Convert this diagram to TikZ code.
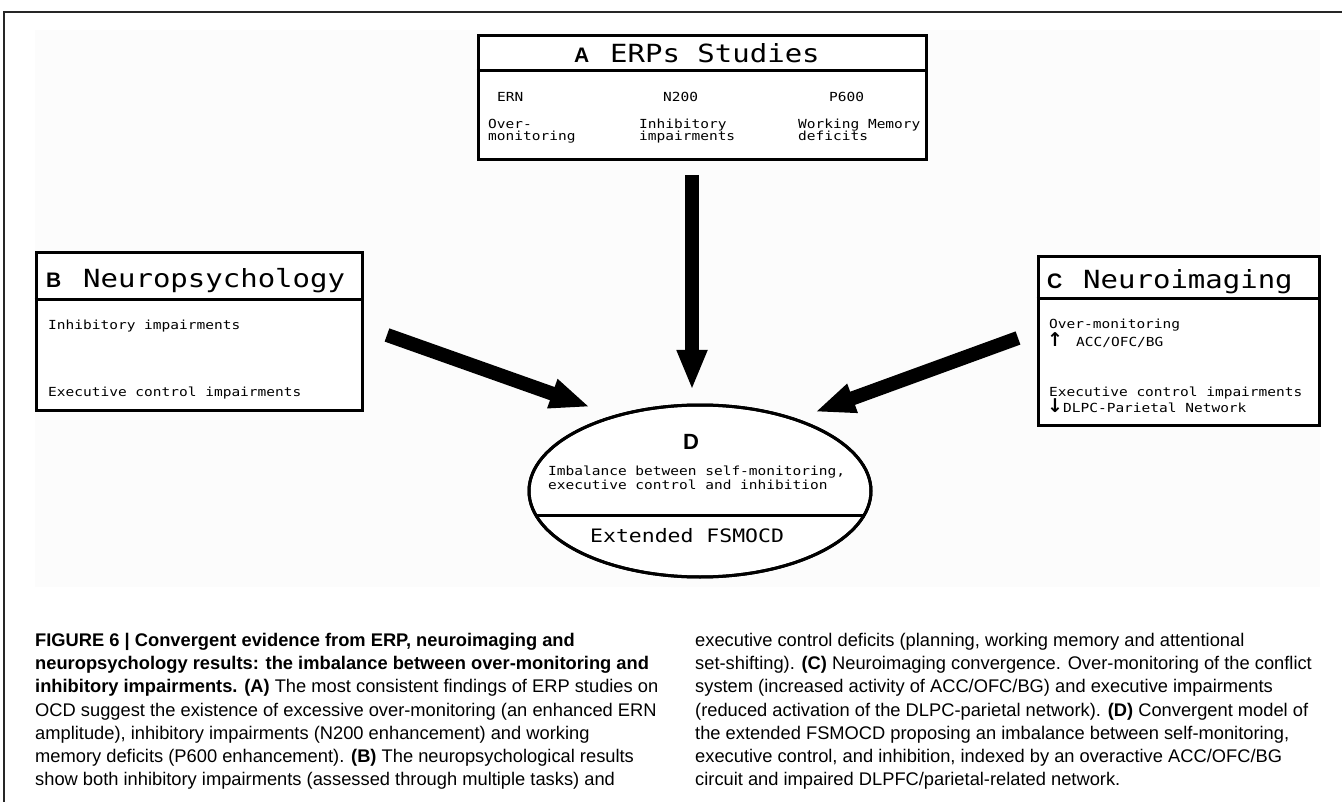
\documentclass[tikz,border=0pt]{standalone}
\usepackage{fontspec}
\setmainfont{Liberation Sans}
\newfontfamily\monof[FakeStretch=1.16]{DejaVu Sans Mono}
\newfontfamily\capf{Liberation Sans}
\newfontfamily\symf{DejaVu Sans}
\usetikzlibrary{arrows.meta,shapes.geometric}
\begin{document}
\begin{tikzpicture}[x=1pt,y=-1pt,
  box/.style={draw, line width=3pt, rectangle, inner sep=0pt},
  oval/.style={draw, ellipse, line width=3pt, inner sep=0pt},
  bigarrow/.style={line width=14pt, -{Triangle[length=40pt,width=28pt]}},
  sepline/.style={line width=3pt},
  ttl/.style={anchor=base west, inner sep=0pt, font=\monof\fontsize{25}{28}\selectfont},
  lbl/.style={anchor=base west, inner sep=0pt, font=\bfseries\fontsize{21}{22}\selectfont},
  body/.style={anchor=base west, inner sep=0pt, font=\monof\fontsize{12.5}{12.5}\selectfont},
  bigbody/.style={anchor=base west, inner sep=0pt, font=\monof\fontsize{18.5}{20}\selectfont},
  captxt/.style={anchor=base west, inner sep=0pt, font=\capf\fontsize{18.3}{23}\selectfont},
  frameline/.style={line width=2.5pt, draw=black!85}
]
\useasboundingbox (0,0) rectangle (1342,802);
\fill[white] (0,0) rectangle (1342,802);
\fill[black!1.2] (35,30) rectangle (1320,587);
% frame
\coordinate (fbl) at (3.8,802);
\coordinate (ftl) at (3.8,12);
\coordinate (ftr) at (1342,12);
\draw[frameline] (fbl) -- (ftl) -- (ftr);

% Box A
\node[box, fill=white, minimum width=448pt, minimum height=124pt] (A) at (702,98) {};
\draw[sepline] (A.west |- 0,70.5) -- (A.east |- 0,70.5);
\node[lbl] (Alab) at (574,63) {A};
\node[ttl] (Attl) at (610,63) {ERPs Studies};
\node[body] (a1) at (497,102) {ERN};
\node[body] (a2) at (663,102) {N200};
\node[body] (a3) at (829,102) {P600};
\node[body] (a4) at (488,129) {Over-};
\node[body] (a5) at (488,141) {monitoring};
\node[body] (a6) at (639,129) {Inhibitory};
\node[body] (a7) at (639,141) {impairments};
\node[body] (a8) at (798,129) {Working Memory};
\node[body] (a9) at (798,141) {deficits};

% Box B
\node[box, fill=white, minimum width=326pt, minimum height=157pt] (B) at (199,331.5) {};
\draw[sepline] (B.west |- 0,300) -- (B.east |- 0,300);
\node[lbl] (Blab) at (46,288) {B};
\node[ttl] (Bttl) at (83,288) {Neuropsychology};
\node[body] (b1) at (48,330) {Inhibitory impairments};
\node[body] (b2) at (48,396) {Executive control impairments};

% Box C
\node[box, fill=white, minimum width=281pt, minimum height=168pt] (C) at (1178.5,341) {};
\draw[sepline] (C.west |- 0,299) -- (C.east |- 0,299);
\node[lbl] (Clab) at (1047,289) {C};
\node[ttl] (Cttl) at (1083,289) {Neuroimaging};
\node[body] (c1) at (1049,329) {Over-monitoring};
\node[body] (c2) at (1047,347) {{\symf\bfseries\fontsize{19}{19}\selectfont ↑}\hskip13pt ACC/OFC/BG};
\node[body] (c3) at (1049,396) {Executive control impairments};
\node[body] (c4) at (1047,413) {{\symf\bfseries\fontsize{19}{19}\selectfont ↓}\hskip0pt DLPC-Parietal Network};

% Ellipse D
\node[oval, fill=white, minimum width=342pt, minimum height=172pt] (D) at (700,491) {};
\begin{scope}
  \clip (700,491) ellipse [x radius=171, y radius=86];
  \draw[sepline] (500,515) -- (900,515);
\end{scope}
\node[oval, minimum width=342pt, minimum height=172pt] (Dring) at (700,491) {};
\node[lbl, font=\bfseries\fontsize{22}{24}\selectfont] (Dlab) at (683,449) {D};
\node[body] (d1) at (548,475) {Imbalance between self-monitoring,};
\node[body] (d2) at (548,489) {executive control and inhibition};
\node[bigbody] (d3) at (590,542) {Extended FSMOCD};

% arrows
\coordinate (aT) at (692,175);
\coordinate (aH) at (692,390);
\coordinate (bT) at (387,335);
\coordinate (bH) at (590,407);
\coordinate (cT) at (1018,338);
\coordinate (cH) at (815,412);
\draw[bigarrow] (aT) -- (aH);
\draw[bigarrow] (bT) -- (bH);
\draw[bigarrow] (cT) -- (cH);

% caption
\node[captxt] (l1) at (35,646) {\bfseries FIGURE 6 | Convergent evidence from ERP, neuroimaging and};
\node[captxt] (l2) at (35,669) {\bfseries neuropsychology results: the imbalance between over-monitoring and};
\node[captxt] (l3) at (35,692) {\textbf{inhibitory impairments. (A)} The most consistent findings of ERP studies on};
\node[captxt] (l4) at (35,716) {OCD suggest the existence of excessive over-monitoring (an enhanced ERN};
\node[captxt] (l5) at (35,739) {amplitude), inhibitory impairments (N200 enhancement) and working};
\node[captxt] (l6) at (35,762) {memory deficits (P600 enhancement). \textbf{(B)} The neuropsychological results};
\node[captxt] (l7) at (35,785) {show both inhibitory impairments (assessed through multiple tasks) and};
\node[captxt] (r1) at (695,646) {executive control deficits (planning, working memory and attentional};
\node[captxt] (r2) at (695,669) {set-shifting). \textbf{(C)} Neuroimaging convergence. Over-monitoring of the conflict};
\node[captxt] (r3) at (695,692) {system (increased activity of ACC/OFC/BG) and executive impairments};
\node[captxt] (r4) at (695,716) {(reduced activation of the DLPC-parietal network). \textbf{(D)} Convergent model of};
\node[captxt] (r5) at (695,739) {the extended FSMOCD proposing an imbalance between self-monitoring,};
\node[captxt] (r6) at (695,762) {executive control, and inhibition, indexed by an overactive ACC/OFC/BG};
\node[captxt] (r7) at (695,785) {circuit and impaired DLPFC/parietal-related network.};
\end{tikzpicture}
\end{document}
